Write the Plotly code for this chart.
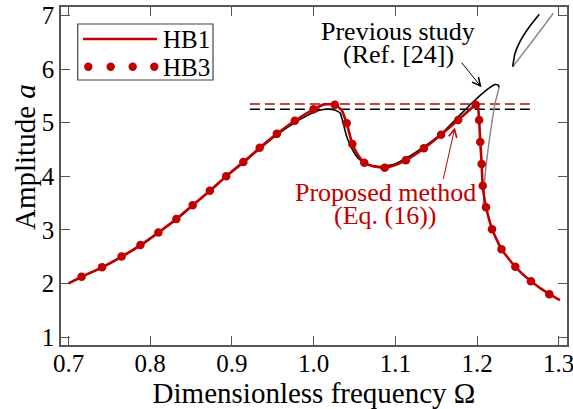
import plotly.graph_objects as go

# ---------------- data ----------------
# HB1 (solid red line)
hb1_x = [0.700, 0.716, 0.741, 0.765, 0.788, 0.810, 0.832, 0.852, 0.873, 0.893,
         0.914, 0.934, 0.955, 0.977, 1.000, 1.013, 1.026, 1.0344, 1.0384, 1.0405,
         1.0474, 1.054, 1.062, 1.074, 1.087, 1.100, 1.113, 1.135, 1.156, 1.177,
         1.1984, 1.2008, 1.2026, 1.204, 1.2057, 1.207, 1.211, 1.2184, 1.230,
         1.2469, 1.266, 1.2885, 1.3016]
hb1_y = [2.00, 2.125, 2.30, 2.50, 2.716, 2.95, 3.20, 3.46, 3.73, 4.00,
         4.265, 4.53, 4.79, 5.035, 5.248, 5.34, 5.334, 5.235, 5.08, 4.987,
         4.60, 4.40, 4.25, 4.18, 4.16, 4.21, 4.30, 4.52, 4.775, 5.05,
         5.334, 5.334, 5.05, 4.64, 4.23, 3.82, 3.42, 3.01, 2.636,
         2.31, 2.04, 1.80, 1.69]

# HB3 (red dots)
hb3_x = [0.716, 0.741, 0.765, 0.788, 0.810, 0.832, 0.852, 0.873, 0.893, 0.914,
         0.934, 0.955, 0.977, 1.000, 1.026, 1.0405, 1.0474, 1.062, 1.087, 1.113,
         1.135, 1.156, 1.177, 1.1984, 1.2026, 1.204, 1.2057, 1.207, 1.211, 1.2184,
         1.230, 1.2469, 1.266, 1.2885]
hb3_y = [2.125, 2.30, 2.50, 2.716, 2.95, 3.20, 3.46, 3.73, 4.00, 4.265,
         4.53, 4.79, 5.035, 5.248, 5.334, 4.987, 4.60, 4.25, 4.16, 4.30,
         4.52, 4.775, 5.05, 5.334, 5.05, 4.64, 4.23, 3.82, 3.42, 3.01,
         2.636, 2.31, 2.04, 1.80]

# Previous study (Ref. [24]) - stable branch (black)
prev_x = [0.700, 0.716, 0.741, 0.765, 0.788, 0.810, 0.832, 0.852, 0.873, 0.893,
          0.914, 0.934, 0.955, 0.977, 0.992, 1.005, 1.015, 1.025, 1.0325, 1.036,
          1.0405, 1.0467, 1.0547, 1.065, 1.081, 1.0975, 1.118, 1.138, 1.1588,
          1.179, 1.1955, 1.2119, 1.222, 1.226, 1.227]
prev_y = [2.00, 2.12, 2.29, 2.49, 2.70, 2.94, 3.19, 3.45, 3.72, 3.99,
          4.25, 4.51, 4.77, 5.00, 5.13, 5.22, 5.248, 5.24, 5.18, 5.00,
          4.74, 4.52, 4.33, 4.22, 4.18, 4.22, 4.38, 4.58, 4.83,
          5.14, 5.39, 5.61, 5.71, 5.70, 5.66]

# Previous study - unstable branch (gray)
unst_x = [1.227, 1.2245, 1.222, 1.2187, 1.2151, 1.2119, 1.2098, 1.2086, 1.2075]
unst_y = [5.66, 5.50, 5.36, 5.05, 4.675, 4.30, 3.99, 3.68, 3.45]

# Isolated branch (upper right)
iso_st_x = [1.2437, 1.2465, 1.2526, 1.2628, 1.2763]
iso_st_y = [6.043, 6.29, 6.51, 6.76, 7.02]
iso_un_x = [1.2437, 1.2689, 1.2934]
iso_un_y = [6.043, 6.54, 7.04]

# Peak amplitude reference levels (dashed)
peak_x = [0.922, 1.271]
peak_hb = 5.347
peak_prev = 5.248

# Arrow targets (data coordinates)
prev_arrow_xy = (1.2055, 5.66)
prop_arrow_xy = (1.173, 4.91)

RED = "#C00000"
FONT = "Liberation Serif, Times New Roman, serif"

fig = go.Figure()

fig.add_trace(go.Scatter(x=peak_x, y=[peak_hb, peak_hb], mode="lines",
                         line=dict(color=RED, width=1.5, dash="10px,5px"),
                         showlegend=False))
fig.add_trace(go.Scatter(x=peak_x, y=[peak_prev, peak_prev], mode="lines",
                         line=dict(color="black", width=1.5, dash="10px,5px"),
                         showlegend=False))

fig.add_trace(go.Scatter(x=unst_x, y=unst_y, mode="lines",
                         line=dict(color="#8c8c8c", width=1.5, shape="spline", smoothing=0.6),
                         showlegend=False))
fig.add_trace(go.Scatter(x=iso_un_x, y=iso_un_y, mode="lines",
                         line=dict(color="#8c8c8c", width=1.5, shape="spline", smoothing=0.6),
                         showlegend=False))
fig.add_trace(go.Scatter(x=iso_st_x, y=iso_st_y, mode="lines",
                         line=dict(color="black", width=1.6, shape="spline", smoothing=0.6),
                         showlegend=False))
fig.add_trace(go.Scatter(x=prev_x, y=prev_y, mode="lines",
                         line=dict(color="black", width=1.6, shape="spline", smoothing=0.5),
                         showlegend=False))

fig.add_trace(go.Scatter(x=hb1_x, y=hb1_y, mode="lines", name="HB1",
                         line=dict(color=RED, width=2.6, shape="spline", smoothing=0.4),
                         showlegend=False))
fig.add_trace(go.Scatter(x=hb3_x, y=hb3_y, mode="markers", name="HB3",
                         marker=dict(color=RED, size=8.5),
                         showlegend=False))

# ------------- layout -------------
L, R, T, B = 61, 567, 7, 345
W, H = 573, 409
def px(x):
    return (x - L) / (R - L)
def py(y):
    return (B - y) / (B - T)

axis_common = dict(showline=True, linecolor="#555555", linewidth=1.5, mirror="ticks",
                   ticks="inside", ticklen=9, tickwidth=1.3, tickcolor="#555555",
                   showgrid=False, zeroline=False, automargin=False,
                   ticklabeloverflow="allow",
                   tickfont=dict(family=FONT, size=25, color="black"))

fig.update_layout(
    template="none",
    width=W, height=H,
    margin=dict(l=L, r=W - R, t=T, b=H - B, pad=0),
    paper_bgcolor="white", plot_bgcolor="white",
    font=dict(family=FONT, color="black"),
    showlegend=False,
    xaxis=dict(range=[0.69082, 1.31016], tickvals=[0.7, 0.8, 0.9, 1.0, 1.1, 1.2, 1.3],
               ticktext=["0.7", "0.8", "0.9", "1.0", "1.1", "1.2", "1.3"],
               ticklabelstandoff=-5,
               title=dict(text="Dimensionless frequency Ω", font=dict(family=FONT, size=29),
                          standoff=0),
               **axis_common),
    yaxis=dict(range=[0.851, 7.157], tickvals=[1, 2, 3, 4, 5, 6, 7],
               ticklabelstandoff=0, **axis_common),
)

shapes = []
annotations = []

# y-axis title (placed as annotation, offset upward as in reference)
annotations.append(dict(text="Amplitude <i>a</i>", x=px(25), y=py(157), xref="paper", yref="paper",
                        textangle=-90, showarrow=False, font=dict(family=FONT, size=29, color="black"),
                        xanchor="center", yanchor="middle"))

# custom legend
shapes.append(dict(type="rect", xref="paper", yref="paper", x0=px(77.7), x1=px(213), y0=py(80), y1=py(24),
                   line=dict(color="#444444", width=1.2), fillcolor="white", layer="above"))
shapes.append(dict(type="line", xref="paper", yref="paper", x0=px(83), x1=px(157), y0=py(39), y1=py(39),
                   line=dict(color=RED, width=2.6), layer="above"))
for cx in [88.3, 110.7, 132.7, 154.3]:
    shapes.append(dict(type="circle", xref="paper", yref="paper",
                       x0=px(cx - 4.2), x1=px(cx + 4.2), y0=py(66.7 + 4.2), y1=py(66.7 - 4.2),
                       line=dict(color=RED, width=0), fillcolor=RED, layer="above"))
annotations.append(dict(text="HB1", x=px(161), y=py(39), xref="paper", yref="paper", showarrow=False,
                        xanchor="left", yanchor="middle", font=dict(family=FONT, size=25, color="black")))
annotations.append(dict(text="HB3", x=px(161), y=py(67), xref="paper", yref="paper", showarrow=False,
                        xanchor="left", yanchor="middle", font=dict(family=FONT, size=25, color="black")))

# Previous study label
annotations.append(dict(text="Previous study", x=px(398), y=py(31), xref="paper", yref="paper",
                        showarrow=False, xanchor="center", yanchor="middle",
                        font=dict(family=FONT, size=26, color="black")))
annotations.append(dict(text="(Ref. [24])", x=px(398), y=py(55), xref="paper", yref="paper",
                        showarrow=False, xanchor="center", yanchor="middle",
                        font=dict(family=FONT, size=26, color="black")))
annotations.append(dict(text="", x=prev_arrow_xy[0], y=prev_arrow_xy[1], xref="x", yref="y",
                        ax=-21, ay=-26,
                        showarrow=True, arrowhead=5, arrowsize=1.6, arrowwidth=1, arrowcolor="black"))

# Proposed method label
annotations.append(dict(text="Proposed method", x=px(385), y=py(193), xref="paper", yref="paper",
                        showarrow=False, xanchor="center", yanchor="middle",
                        font=dict(family=FONT, size=26, color=RED)))
annotations.append(dict(text="(Eq. (16))", x=px(385), y=py(215), xref="paper", yref="paper",
                        showarrow=False, xanchor="center", yanchor="middle",
                        font=dict(family=FONT, size=26, color=RED)))
annotations.append(dict(text="", x=prop_arrow_xy[0], y=prop_arrow_xy[1], xref="x", yref="y",
                        ax=-12, ay=53,
                        showarrow=True, arrowhead=5, arrowsize=1.6, arrowwidth=1, arrowcolor=RED))

fig.update_layout(shapes=shapes, annotations=annotations)

fig.write_html("out.html")
